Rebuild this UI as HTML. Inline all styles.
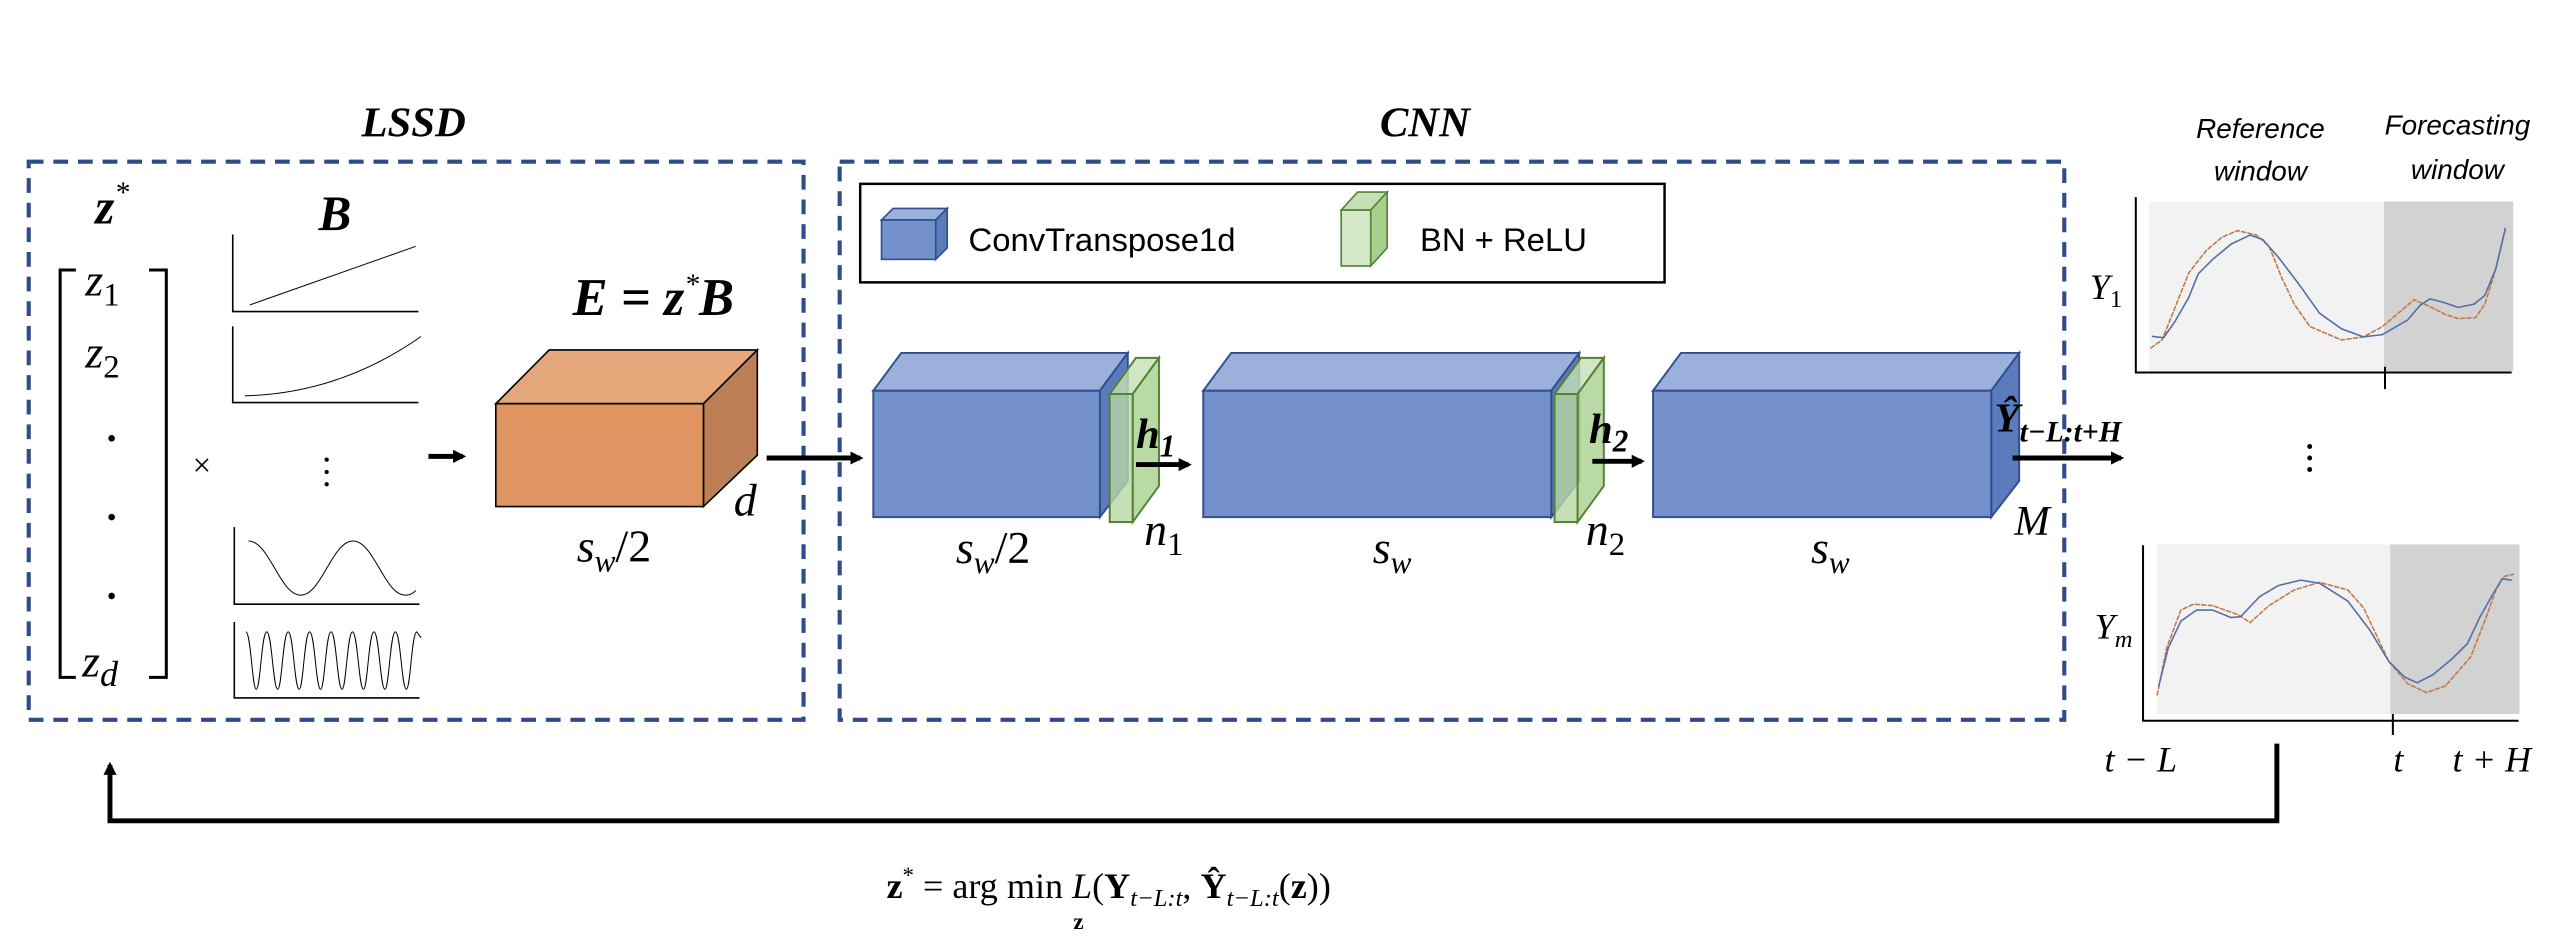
<!DOCTYPE html>
<html><head><meta charset="utf-8"><style>
html,body{margin:0;padding:0;background:#fff;}
svg{display:block;}
.s{font-family:"Liberation Serif",serif;}
.bi{font-family:"Liberation Serif",serif;font-weight:bold;font-style:italic;}
.it{font-family:"Liberation Serif",serif;font-style:italic;}
.sa{font-family:"Liberation Sans",sans-serif;}
.ns{vector-effect:non-scaling-stroke;}
</style></head><body>
<svg width="2574" height="940" viewBox="0 0 1568 572.6" preserveAspectRatio="none" xmlns="http://www.w3.org/2000/svg">
<defs>
<marker id="ah" markerWidth="8" markerHeight="8" refX="6" refY="4" orient="auto" markerUnits="userSpaceOnUse"><path d="M0,0 L8,4 L0,8 z" fill="#000"/></marker>
</defs>
<rect width="1568" height="573" fill="#fff"/>

<!-- titles -->
<text x="252" y="83" class="bi" font-size="26" text-anchor="middle">LSSD</text>
<text x="868" y="83" class="bi" font-size="26" text-anchor="middle">CNN</text>

<!-- dashed boxes -->
<rect x="17.5" y="98.5" width="472" height="340" fill="none" stroke="#2f4b8a" stroke-width="2.5" stroke-dasharray="9,6"/>
<rect x="511.5" y="98.5" width="746" height="340" fill="none" stroke="#2f4b8a" stroke-width="2.5" stroke-dasharray="9,6"/>

<!-- left panel shapes in zoom1 coords -->
<g transform="translate(0,60.92) scale(0.3186,0.2409)" fill="none" stroke="#000">
  <polyline class="ns" points="145,430 115,430 115,1460 145,1460" stroke-width="3"/>
  <polyline class="ns" points="285,430 318,430 318,1460 285,1460" stroke-width="3"/>
  <polyline class="ns" points="445,340 445,535 800,535" stroke-width="1.6"/>
  <line class="ns" x1="478" y1="518" x2="795" y2="370" stroke-width="1"/>
  <polyline class="ns" points="445,572 445,765 800,765" stroke-width="1.6"/>
  <path class="ns" d="M468,748 Q650,742 805,598" stroke-width="1"/>
  <polyline class="ns" points="448,1080 448,1275 802,1275" stroke-width="1.6"/>
  <path class="ns" d="M475,1115 C515,1115 535,1252 575,1252 C615,1252 635,1115 675,1115 C715,1115 735,1252 775,1252 C785,1252 792,1245 795,1240" stroke-width="1"/>
  <polyline class="ns" points="448,1320 448,1512 802,1512" stroke-width="1.6"/>
  <path class="ns" stroke-width="1" d="M470,1345 C480,1345 482,1490 490,1490 C498,1490 500,1345 510,1345 C520,1345 522,1490 531,1490 C539,1490 541,1345 551,1345 C561,1345 563,1490 572,1490 C580,1490 582,1345 592,1345 C602,1345 604,1490 613,1490 C621,1490 623,1345 633,1345 C643,1345 645,1490 654,1490 C662,1490 664,1345 674,1345 C684,1345 686,1490 695,1490 C703,1490 705,1345 715,1345 C725,1345 727,1490 736,1490 C744,1490 746,1345 756,1345 C766,1345 768,1490 777,1490 C785,1490 787,1345 797,1345 L805,1360"/>
  <!-- orange box -->
  <polygon class="ns" points="948,768 1050,632 1448,632 1345,768" fill="#e5a67a" stroke-width="1.6"/>
  <polygon class="ns" points="1345,768 1448,632 1448,898 1345,1028" fill="#bd7f55" stroke-width="1.6"/>
  <rect class="ns" x="948" y="768" width="397" height="260" fill="#e09461" stroke-width="1.6"/>
</g>
<circle cx="68" cy="267" r="2" fill="#000"/><circle cx="68" cy="315" r="2" fill="#000"/><circle cx="68" cy="363" r="2" fill="#000"/>
<circle cx="199" cy="280" r="1.3" fill="#000"/><circle cx="199" cy="287.5" r="1.3" fill="#000"/><circle cx="199" cy="295" r="1.3" fill="#000"/>
<text x="58" y="136" class="bi" font-size="30">z<tspan font-size="18" dy="-13" font-weight="normal">*</tspan></text>
<text x="204" y="140" class="bi" font-size="30" text-anchor="middle">B</text>
<text x="52" y="180" class="it" font-size="28">z<tspan font-size="20" dy="6" font-style="normal">1</tspan></text>
<text x="52" y="224" class="it" font-size="28">z<tspan font-size="20" dy="6" font-style="normal">2</tspan></text>
<text x="50" y="412" class="it" font-size="28">z<tspan font-size="22" dy="6">d</tspan></text>
<text x="123" y="290" class="s" font-size="20" text-anchor="middle">×</text>
<line x1="261" y1="278" x2="282" y2="278" stroke="#000" stroke-width="3" marker-end="url(#ah)"/>
<text x="398" y="192" class="bi" font-size="32" text-anchor="middle">E = z<tspan font-size="18" dy="-13" font-weight="normal">*</tspan><tspan dy="13">B</tspan></text>
<text x="447" y="314" class="it" font-size="28">d</text>
<text x="374" y="342" class="it" font-size="28" text-anchor="middle">s<tspan font-size="19" dy="6">w</tspan><tspan dy="-6" font-style="normal">/2</tspan></text>
<line x1="467" y1="279" x2="524" y2="279" stroke="#000" stroke-width="3" marker-end="url(#ah)"/>

<!-- legend -->
<rect x="524" y="112" width="490" height="60" fill="#fff" stroke="#000" stroke-width="1.5"/>
<polygon points="537,134 544,127 577,127 570,134" fill="#9bb0db" stroke="#2f4f8f" stroke-width="1"/>
<polygon points="570,134 577,127 577,151 570,158" fill="#5b7bbd" stroke="#2f4f8f" stroke-width="1"/>
<rect x="537" y="134" width="33" height="24" fill="#7491cb" stroke="#2f4f8f" stroke-width="1"/>
<text x="590" y="153" class="sa" font-size="20">ConvTranspose1d</text>
<polygon points="817,128 827,117 845,117 835,128" fill="#c5e0b4" stroke="#548235" stroke-width="1"/>
<polygon points="835,128 845,117 845,151 835,162" fill="#a9d18e" stroke="#548235" stroke-width="1"/>
<rect x="817" y="128" width="18" height="34" fill="#d5e8c8" stroke="#548235" stroke-width="1"/>
<text x="865" y="153" class="sa" font-size="20">BN + ReLU</text>

<!-- blue boxes -->
<g stroke="#2f4f8f" stroke-width="1.2">
<polygon points="532,238 549,215 687,215 670,238" fill="#9bb0db"/>
<polygon points="670,238 687,215 687,293 670,315" fill="#5b7bbd"/>
<rect x="532" y="238" width="138" height="77" fill="#7491cb"/>
<polygon points="733,238 750,215 962,215 945,238" fill="#9bb0db"/>
<polygon points="945,238 962,215 962,293 945,315" fill="#5b7bbd"/>
<rect x="733" y="238" width="212" height="77" fill="#7491cb"/>
<polygon points="1007,238 1024,215 1230,215 1213,238" fill="#9bb0db"/>
<polygon points="1213,238 1230,215 1230,293 1213,315" fill="#5b7bbd"/>
<rect x="1007" y="238" width="206" height="77" fill="#7491cb"/>
</g>
<g stroke="#548235" stroke-width="1.2" fill-opacity="0.8">
<polygon points="676,240 692,218 706,218 690,240" fill="#c5e0b4"/>
<polygon points="690,240 706,218 706,296 690,318" fill="#a9d18e"/>
<rect x="676" y="240" width="14" height="78" fill="#b8d8a4"/>
<polygon points="947,240 963,218 977,218 961,240" fill="#c5e0b4"/>
<polygon points="961,240 977,218 977,296 961,318" fill="#a9d18e"/>
<rect x="947" y="240" width="14" height="78" fill="#b8d8a4"/>
</g>
<text x="692" y="273" class="bi" font-size="26">h<tspan font-size="19" dy="5">1</tspan></text>
<line x1="692" y1="283" x2="724" y2="283" stroke="#000" stroke-width="3" marker-end="url(#ah)"/>
<text x="968" y="270" class="bi" font-size="26">h<tspan font-size="19" dy="5">2</tspan></text>
<line x1="970" y1="281" x2="1000" y2="281" stroke="#000" stroke-width="3" marker-end="url(#ah)"/>
<text x="697" y="332" class="it" font-size="28">n<tspan font-size="20" dy="6" font-style="normal">1</tspan></text>
<text x="966" y="332" class="it" font-size="28">n<tspan font-size="20" dy="6" font-style="normal">2</tspan></text>
<text x="605" y="343" class="it" font-size="28" text-anchor="middle">s<tspan font-size="19" dy="6">w</tspan><tspan dy="-6" font-style="normal">/2</tspan></text>
<text x="848" y="343" class="it" font-size="28" text-anchor="middle">s<tspan font-size="19" dy="6">w</tspan></text>
<text x="1115" y="343" class="it" font-size="28" text-anchor="middle">s<tspan font-size="19" dy="6">w</tspan></text>
<text x="1215" y="263" class="bi" font-size="25">Ŷ<tspan font-size="18" dy="6">t−L:t+H</tspan></text>
<text x="1227" y="326" class="it" font-size="26">M</text>
<line x1="1226" y1="279" x2="1292" y2="279" stroke="#000" stroke-width="3" marker-end="url(#ah)"/>

<!-- right panel in zoom2 coords -->
<g transform="translate(1267.1,54.83) scale(0.1919,0.2719)">
  <rect x="220" y="250" width="745" height="380" fill="#f2f2f2"/>
  <rect x="965" y="250" width="410" height="380" fill="#d2d2d2"/>
  <rect x="245" y="1018" width="740" height="380" fill="#f2f2f2"/>
  <rect x="985" y="1018" width="410" height="380" fill="#d2d2d2"/>
  <g fill="none" stroke="#000" stroke-width="2">
    <polyline class="ns" points="177,240 177,633 1370,633"/>
    <line class="ns" x1="968" y1="620" x2="968" y2="670"/>
    <polyline class="ns" points="200,1020 200,1413 1392,1413"/>
    <line class="ns" x1="993" y1="1398" x2="993" y2="1445"/>
  </g>
  <g fill="none" stroke-width="1.6" stroke-linejoin="round" stroke-linecap="round">
    <polyline class="ns" stroke="#c27a4a" stroke-dasharray="4,2.5" points="225,578 260,560 300,490 345,410 400,360 450,330 500,315 560,325 600,350 640,420 680,480 730,530 830,560 900,553 960,530 1010,500 1060,470 1110,485 1160,503 1200,512 1255,510 1285,480 1320,400 1350,310"/>
    <polyline class="ns" stroke="#5470a8" points="230,552 265,555 300,520 345,465 375,412 420,380 480,345 540,325 580,335 630,375 700,440 760,500 830,535 900,553 960,548 1040,515 1080,482 1110,468 1150,475 1200,487 1250,480 1285,460 1320,400 1350,310"/>
    <polyline class="ns" stroke="#c27a4a" stroke-dasharray="4,2.5" points="245,1355 275,1250 320,1165 360,1152 420,1155 500,1175 540,1193 600,1155 680,1120 760,1103 850,1120 900,1160 940,1220 980,1280 1040,1330 1100,1350 1160,1335 1240,1270 1290,1180 1320,1120 1345,1090 1375,1085"/>
    <polyline class="ns" stroke="#5470a8" points="250,1335 280,1250 320,1190 370,1165 420,1165 480,1182 510,1180 570,1135 630,1110 700,1098 760,1105 850,1145 920,1210 980,1280 1030,1315 1070,1328 1120,1310 1180,1275 1230,1240 1270,1180 1310,1130 1340,1095 1370,1098"/>
  </g>
</g>
<text x="1377" y="84" class="sa" font-size="17" font-style="italic" text-anchor="middle">Reference</text>
<text x="1377" y="110" class="sa" font-size="17" font-style="italic" text-anchor="middle">window</text>
<text x="1497" y="82" class="sa" font-size="17" font-style="italic" text-anchor="middle">Forecasting</text>
<text x="1497" y="109" class="sa" font-size="17" font-style="italic" text-anchor="middle">window</text>
<text x="1273" y="182" class="it" font-size="22">Y<tspan font-size="15" dy="5" font-style="normal">1</tspan></text>
<text x="1276" y="389" class="it" font-size="22">Y<tspan font-size="15" dy="5">m</tspan></text>
<circle cx="1407" cy="272" r="1.5" fill="#000"/><circle cx="1407" cy="279" r="1.5" fill="#000"/><circle cx="1407" cy="286" r="1.5" fill="#000"/>
<text x="1282" y="470" class="it" font-size="22">t − L</text>
<text x="1458" y="470" class="it" font-size="22">t</text>
<text x="1494" y="470" class="it" font-size="22">t + H</text>

<!-- feedback loop -->
<polyline points="1387,453 1387,500 67,500 67,466" fill="none" stroke="#000" stroke-width="3" marker-end="url(#ah)"/>

<!-- formula -->
<text x="540" y="547" class="s" font-size="22"><tspan font-weight="bold">z</tspan><tspan font-size="14" dy="-9">*</tspan><tspan dy="9"> = arg </tspan><tspan>min </tspan><tspan font-style="italic">L</tspan>(<tspan font-weight="bold">Y</tspan><tspan font-size="15" dy="5" font-style="italic">t−L:t</tspan><tspan dy="-5">, </tspan><tspan font-weight="bold">Ŷ</tspan><tspan font-size="15" dy="5" font-style="italic">t−L:t</tspan><tspan dy="-5">(</tspan><tspan font-weight="bold">z</tspan>))</text>
<text x="657" y="566" class="s" font-size="14" font-weight="bold" text-anchor="middle">z</text>
</svg>
</body></html>
